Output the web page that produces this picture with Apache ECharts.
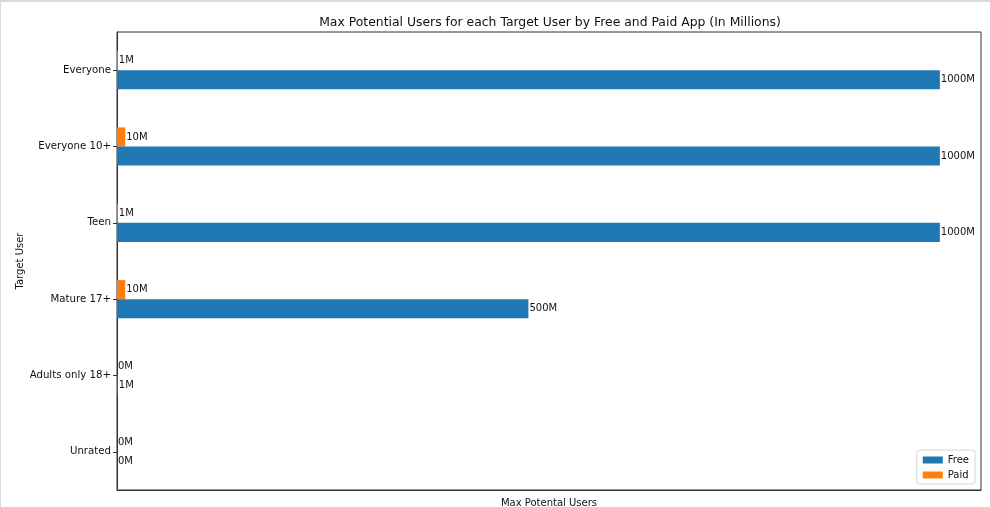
<!DOCTYPE html>
<html>
<head>
<meta charset="utf-8">
<script src="https://cdn.jsdelivr.net/npm/echarts@6/dist/echarts.min.js"></script>
<style>
html,body{margin:0;padding:0;background:#fff;}
#frame{position:absolute;left:0;top:0;width:990px;height:507px;box-sizing:border-box;border-left:1px solid #d9d9d9;border-top:2px solid #d9d9d9;}
#chart{position:absolute;left:0;top:0;width:990px;height:507px;}
</style>
</head>
<body>
<div id="frame"></div>
<div id="chart"></div>
<script>
const categories = ["Everyone", "Everyone 10+", "Teen", "Mature 17+", "Adults only 18+", "Unrated"];
const freeValues = [1000, 1000, 1000, 500, 1, 0];
const paidValues = [1, 10, 1, 10, 0, 0];
const titleText = "Max Potential Users for each Target User by Free and Paid App (In Millions)";
const xName = "Max Potental Users";
const yName = "Target User";

const FONT = "DejaVu Sans";
const chart = echarts.init(document.getElementById('chart'), null, {renderer: 'canvas'});
const labelCfg = {
  show: true, position: 'right', distance: 1,
  formatter: p => p.value + 'M',
  color: '#111', fontSize: 10, fontFamily: FONT
};
chart.setOption({
  animation: false,
  title: {
    text: titleText, left: 545, top: 12, textAlign: 'center',
    textStyle: {fontFamily: FONT, fontSize: 12.4, fontWeight: 'normal', color: '#111'}
  },
  legend: {
    data: ['Free', 'Paid'], orient: 'vertical', right: 15, bottom: 23,
    icon: 'rect', itemWidth: 20, itemHeight: 7, itemGap: 5,
    borderColor: '#d6d6d6', borderWidth: 1, borderRadius: 3,
    padding: [5, 6, 4, 6],
    textStyle: {fontFamily: FONT, fontSize: 10, color: '#111'}
  },
  grid: {left: 117, right: 9, top: 32, bottom: 17, show: true, borderColor: '#333', borderWidth: 1, backgroundColor: 'transparent', containLabel: false, outerBoundsMode: 'none'},
  xAxis: {
    type: 'value', min: 0, max: 1050,
    name: xName, nameLocation: 'middle', nameGap: 8,
    nameTextStyle: {fontFamily: FONT, fontSize: 10, color: '#111'},
    axisLabel: {show: false}, axisTick: {show: false}, splitLine: {show: false},
    axisLine: {show: true, lineStyle: {color: '#333'}}
  },
  yAxis: {
    type: 'category', data: categories, inverse: true,
    name: yName, nameLocation: 'middle', nameGap: 92, nameRotate: 90, nameMoveOverlap: false,
    nameTextStyle: {fontFamily: FONT, fontSize: 10, color: '#111'},
    axisLine: {show: true, lineStyle: {color: '#333'}},
    axisTick: {show: true, alignWithLabel: true, length: 4, lineStyle: {color: '#333'}},
    axisLabel: {fontFamily: FONT, fontSize: 10.2, color: '#111', margin: 6},
    splitLine: {show: false}
  },
  series: [
    {name: 'Paid', type: 'bar', data: paidValues, barWidth: '25%', barGap: '0%', itemStyle: {color: '#ff7f0e'}, label: labelCfg},
    {name: 'Free', type: 'bar', data: freeValues, barWidth: '25%', barGap: '0%', itemStyle: {color: '#1f77b4'}, label: labelCfg}
  ]
});
</script>
</body>
</html>
